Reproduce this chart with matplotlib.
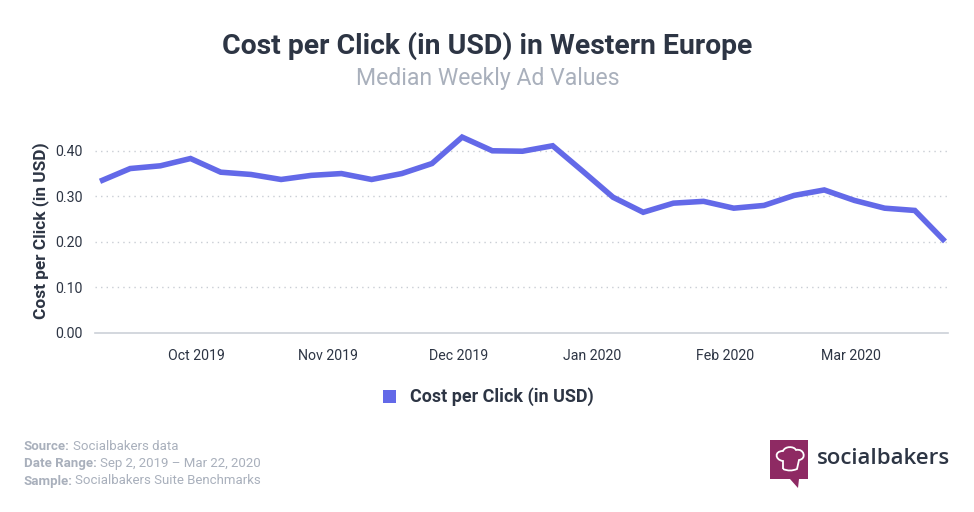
import matplotlib
matplotlib.use('Agg')
import matplotlib.pyplot as plt
from matplotlib.patches import Rectangle, Polygon, PathPatch
from matplotlib.path import Path
import numpy as np

plt.rcParams['font.family'] = ['Roboto', 'DejaVu Sans']

# median weekly values, Sep 2 2019 - Mar 16 2020
cpc = [0.333, 0.361, 0.367, 0.383, 0.353, 0.348, 0.337, 0.346, 0.350, 0.337,
       0.350, 0.372, 0.430, 0.400, 0.399, 0.411, 0.355, 0.298, 0.265, 0.285,
       0.289, 0.274, 0.280, 0.302, 0.314, 0.291, 0.274, 0.269, 0.201]
weeks = np.arange(len(cpc))

month_pos = [3.2, 7.55, 11.87, 16.3, 20.7, 24.87]
month_labels = ['Oct 2019', 'Nov 2019', 'Dec 2019', 'Jan 2020', 'Feb 2020', 'Mar 2020']

W, H = 974, 512
dark = '#2d3544'
soft = '#a9b0bc'
blue = '#6369e8'

fig = plt.figure(figsize=(W / 100, H / 100), dpi=100)
ax = fig.add_axes([95 / W, 1 - 333 / H, (948 - 95) / W, (333 - 128) / H])

ax.plot(weeks, cpc, color=blue, lw=4, solid_joinstyle='miter', solid_capstyle='butt', zorder=3)
ax.set_xlim(-5 / 30.18, 28 + 3 / 30.18)
ax.set_ylim(0, 0.45)

ax.set_yticks([0, 0.1, 0.2, 0.3, 0.4])
ax.set_yticklabels(['0.00', '0.10', '0.20', '0.30', '0.40'], fontsize=10.2, color=dark)
ax.set_xticks(month_pos)
ax.set_xticklabels(month_labels, fontsize=10.2, color=dark)
ax.tick_params(length=0)
ax.tick_params(axis='x', pad=11.5)
ax.tick_params(axis='y', pad=9)
ax.set_ylabel('Cost per Click (in USD)', fontsize=12.4, fontweight='bold', color=dark, labelpad=4)
ax.yaxis.grid(True, color='#c9cdd4', lw=1, ls=(0, (1, 3)))
ax.set_axisbelow(True)
for s in ['top', 'right', 'left']:
    ax.spines[s].set_visible(False)
ax.spines['bottom'].set_color('#ccd1d8')
ax.spines['bottom'].set_linewidth(1.2)
ax.get_yaxis().get_gridlines()[0].set_visible(False)


def txt(x, y, s, **kw):
    return fig.text(x / W, 1 - y / H, s, va='center', **kw)


txt(487.5, 46, 'Cost per Click (in USD) in Western Europe', ha='center', fontsize=20.4, fontweight='bold', color=dark)
txt(488, 78.5, 'Median Weekly Ad Values', ha='center', fontsize=16.6, color=soft)

# legend
fig.add_artist(Rectangle((383 / W, 1 - 403 / H), 13 / W, 13 / H, transform=fig.transFigure, color=blue, lw=0))
txt(410, 396.5, 'Cost per Click (in USD)', ha='left', fontsize=12.9, fontweight='bold', color=dark)

# footer
for y, head, rest, x2 in [(446, 'Source:', 'Socialbakers data', 73),
                          (463, 'Date Range:', 'Sep 2, 2019 – Mar 22, 2020', 100),
                          (481, 'Sample:', 'Socialbakers Suite Benchmarks', 75)]:
    txt(24, y, head, ha='left', fontsize=9.5, fontweight='bold', color=soft)
    txt(x2, y, rest, ha='left', fontsize=9.5, color=soft)


# logo
def px(pts):
    return [(x / W, 1 - y / H) for x, y in pts]


fig.add_artist(Polygon(px([(770, 440), (808, 440), (808, 479), (799, 479), (798, 488), (790, 479), (770, 479)]),
                       closed=True, transform=fig.transFigure, color='#8e2a63', lw=0))
hat_pts = [(783, 469), (783, 461),
           (775, 460), (774, 451), (783, 451),
           (785, 446), (794, 446), (796, 450),
           (804, 448), (807, 459), (799, 460),
           (797, 469),
           (792, 471), (788, 471), (783, 469)]
hat_codes = [Path.MOVETO, Path.LINETO,
             Path.CURVE4, Path.CURVE4, Path.CURVE4,
             Path.CURVE4, Path.CURVE4, Path.CURVE4,
             Path.CURVE4, Path.CURVE4, Path.CURVE4,
             Path.LINETO,
             Path.CURVE4, Path.CURVE4, Path.CURVE4]
fig.add_artist(PathPatch(Path(px(hat_pts), hat_codes), transform=fig.transFigure, fc='none', ec='white', lw=1.3))
txt(817, 458, 'socialbakers', ha='left', fontsize=16, color=dark, family=['Open Sans', 'DejaVu Sans'], fontweight='semibold')

fig.savefig('out.png', dpi=100)
